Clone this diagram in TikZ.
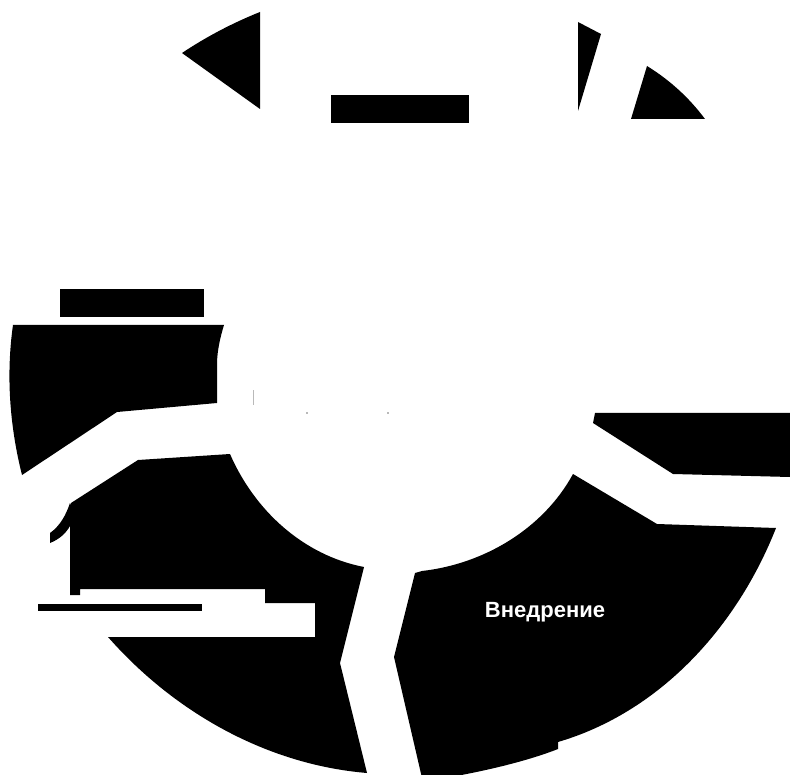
\documentclass[tikz,border=0pt]{standalone}
\usepackage{fontspec}
\newfontfamily\labelfont{Liberation Sans}
\begin{document}
\begin{tikzpicture}[x=1pt,y=-1pt,
  piece/.style={fill=black},
  speck/.style={fill=gray!55},
  lbl/.style={text=white,inner sep=0pt,font=\labelfont\bfseries\fontsize{22}{22}\selectfont}]
\useasboundingbox (0,0) rectangle (790,775);
% top row
\fill[piece] (182,53) .. controls (206.6,36.6) and (232.6,23) .. (260,12) -- (260,109) -- cycle;
\fill[piece] (331,95) rectangle (469,123);
\fill[piece] (578,22) -- (601,34) -- (578,111) -- cycle;
\fill[piece] (647,66) .. controls (669.7,80) and (689,97.6) .. (705,119) -- (631,119) -- cycle;
% left
\fill[piece] (60,289) rectangle (204,317);
\fill[piece] (13,325) -- (224,325) .. controls (220,338) and (217.5,350) .. (217,362)
  -- (217,403)
  -- (117,412) -- (22,475) .. controls (9.7,426) and (5.9,375) .. (13,325) -- cycle;
% bottom left
\fill[piece] (70,505) -- (71,503) -- (138,460) -- (230,454)
  .. controls (254.6,510.6) and (303.4,555.3) .. (364,567)
  -- (340,663) -- (367,773)
  .. controls (266.8,764.6) and (174.5,712.5) .. (108,637)
  -- (315,637) -- (315,603) -- (265,603) -- (265,589) -- (80,589) -- (80,595) -- (70,595) -- cycle;
\fill[piece] (70,503) .. controls (66,515) and (60,526) .. (50,533) -- (50,543)
  .. controls (60,539) and (66,533) .. (70,526) -- cycle;
\fill[piece] (38,604) rectangle (202,611);
% bottom right
\fill[piece] (573,474) -- (657,524) -- (776,528)
  .. controls (737,627) and (660,712) .. (558,742)
  -- (558,749) .. controls (525,762) and (480,772) .. (445,778)
  -- (422,778) -- (394,657) -- (415,573) -- (422,571)
  .. controls (484,564) and (543.2,528.8) .. (573,474) -- cycle;
% right band
\fill[piece] (595,413) -- (790,413) -- (790,477) -- (673,474) -- (593,423) -- cycle;
% faint specks
\fill[speck] (252.6,390) rectangle (253.4,405);
\fill[speck] (306,412.5) rectangle (308,414);
\fill[speck] (387,412.5) rectangle (389,414);
\node[lbl] (impl) at (545,612) {Внедрение};
\end{tikzpicture}
\end{document}
